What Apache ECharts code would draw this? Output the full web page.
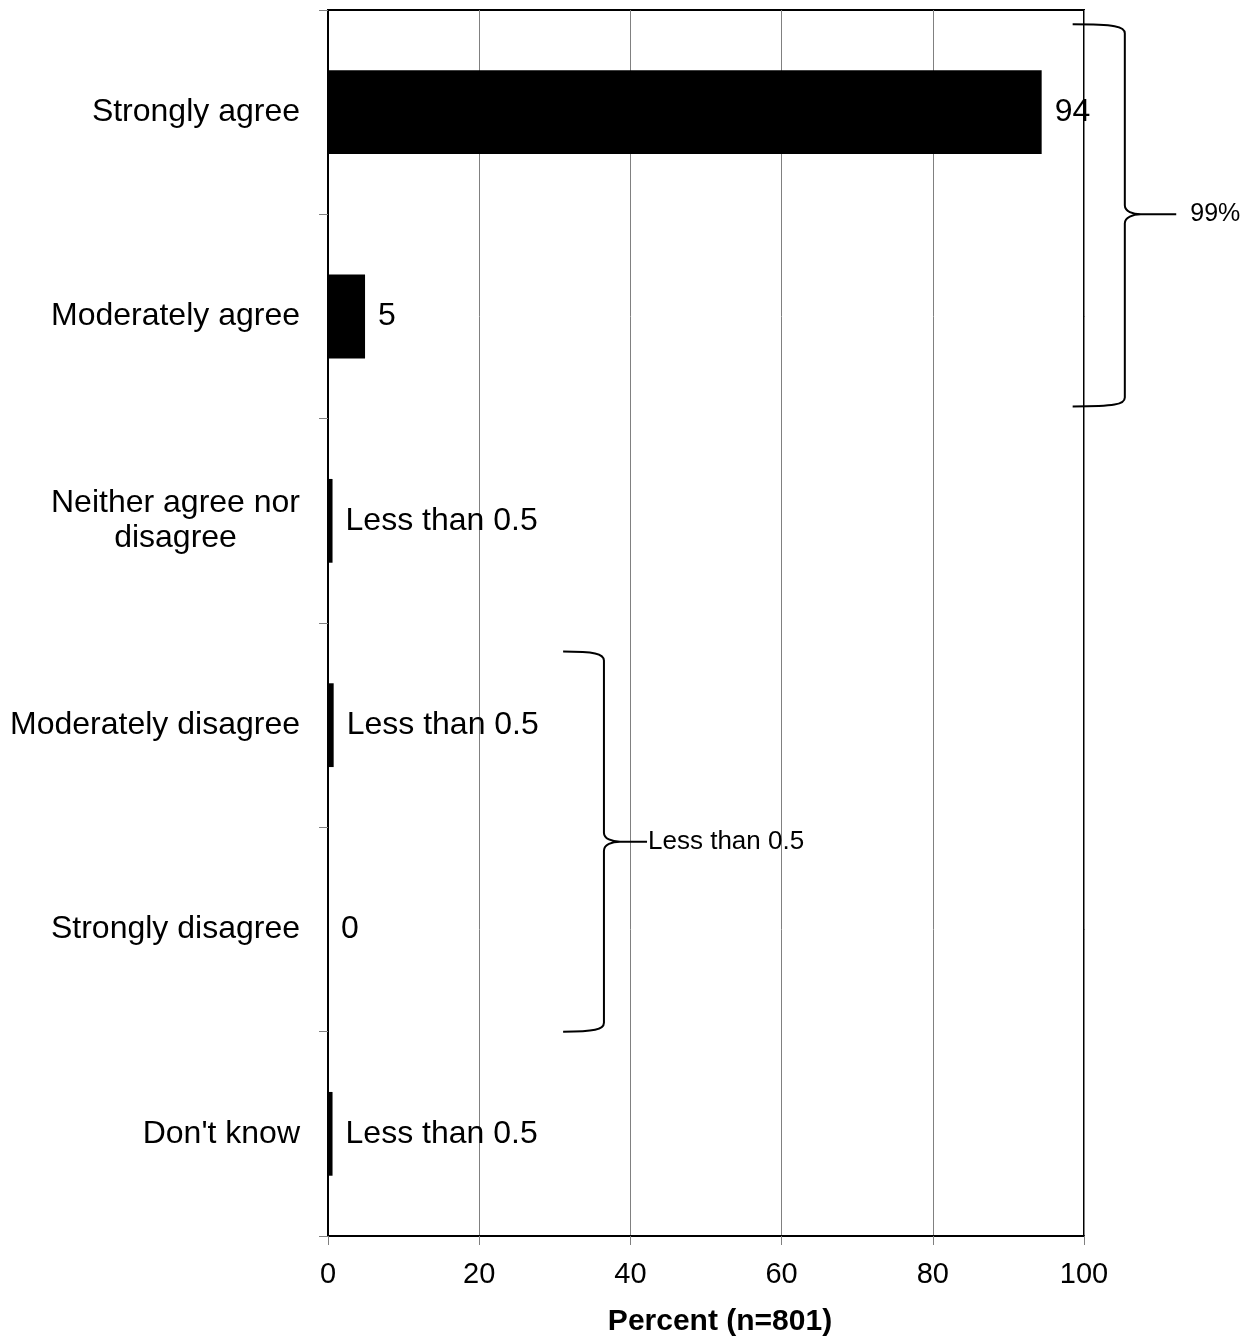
<!DOCTYPE html>
<html>
<head>
<meta charset="utf-8">
<script src="https://cdn.jsdelivr.net/npm/echarts@6/dist/echarts.min.js"></script>
<style>
html,body{margin:0;padding:0;background:#fff;}
#chart{width:1256px;height:1342px;}
</style>
</head>
<body>
<div id="chart"></div>
<script>
const categories = ['Strongly agree', 'Moderately agree', 'Neither agree nor disagree', 'Moderately disagree', 'Strongly disagree', "Don't know"];
const values = [94.4, 4.9, 0.6, 0.75, 0, 0.6];
const valueLabels = ['94', '5', 'Less than 0.5', 'Less than 0.5', '0', 'Less than 0.5'];
const xTickMin = 0, xTickMax = 100, xTickStep = 20;
const braceLabels = ['99%', 'Less than 0.5'];
const axisTitle = 'Percent (n=801)';

const FONT = '"Liberation Sans", Arial, Helvetica, sans-serif';

// brace geometry (x in percent units, y in category-band units)
const braceGeom = [
  { x0: 98.5, xv: 105.4, xt: 112.2, yTop: -0.43, yBot: 1.44, yMid: 0.5, gap: 14, fs: 25 },
  { x0: 31.1, xv: 36.5, xt: 42.2, yTop: 2.64, yBot: 4.5, yMid: 3.57, gap: 1, fs: 26 }
];

const chart = echarts.init(document.getElementById('chart'), null, { renderer: 'canvas' });

function braceRender(params, api) {
  const b = braceGeom[params.dataIndex];
  const p0 = api.coord([b.x0, 0]);
  const p1 = api.coord([b.x0, 1]);
  const band = p1[1] - p0[1];
  const yOf = function (f) { return p0[1] + f * band; };
  const x0 = api.coord([b.x0, 0])[0];
  const xv = api.coord([b.xv, 0])[0];
  const xt = api.coord([b.xt, 0])[0];
  const yT = yOf(b.yTop), yB = yOf(b.yBot), yM = yOf(b.yMid);
  const r = 9;
  const d = [
    'M', x0, yT,
    'C', xv - 10, yT, xv, yT + 2, xv, yT + r,
    'L', xv, yM - r,
    'C', xv, yM - 3, xv + 8, yM, xv + 16, yM,
    'L', xt, yM,
    'M', xv + 16, yM,
    'C', xv + 8, yM, xv, yM + 3, xv, yM + r,
    'L', xv, yB - r,
    'C', xv, yB - 2, xv - 10, yB, x0, yB
  ].join(' ');
  return {
    type: 'group',
    children: [
      { type: 'path', shape: { pathData: d }, style: { stroke: '#000', fill: null, lineWidth: 2 } },
      { type: 'text', style: { text: braceLabels[params.dataIndex], x: xt + b.gap, y: yM, verticalAlign: 'middle', align: 'left', fill: '#000', font: b.fs + 'px ' + FONT } }
    ]
  };
}

const option = {
  animation: false,
  backgroundColor: '#fff',
  grid: { left: 328, top: 10, width: 756, height: 1227, show: true, borderColor: '#000', borderWidth: 2, backgroundColor: 'transparent', containLabel: false },
  xAxis: {
    type: 'value', min: xTickMin, max: xTickMax, interval: xTickStep,
    name: axisTitle, nameLocation: 'middle', nameGap: 71,
    nameTextStyle: { fontFamily: FONT, fontWeight: 'bold', fontSize: 30, color: '#000', padding: [0, 0, 0, 28] },
    axisLine: { show: true, lineStyle: { color: '#000', width: 2 } },
    axisTick: { show: true, length: 9, lineStyle: { color: '#808080', width: 1 } },
    axisLabel: { fontFamily: FONT, fontSize: 29, color: '#000', margin: 24 },
    splitLine: { show: true, lineStyle: { color: '#808080', width: 1 } }
  },
  yAxis: {
    type: 'category', data: categories, inverse: true,
    axisLine: { show: true, lineStyle: { color: '#000', width: 2 } },
    axisTick: { show: true, length: 9, alignWithLabel: false, lineStyle: { color: '#808080', width: 1 } },
    axisLabel: {
      fontFamily: FONT, fontSize: 32, color: '#000', margin: 28, lineHeight: 35,
      formatter: function (v) {
        if (v === 'Neither agree nor disagree') return '{c|Neither agree nor}\n{c|disagree}';
        return v;
      },
      rich: { c: { fontFamily: FONT, fontSize: 32, color: '#000', lineHeight: 35, width: 249, align: 'center' } }
    },
    splitLine: { show: false }
  },
  series: [
    {
      type: 'bar', data: values, barCategoryGap: '59%',
      itemStyle: { color: '#000' },
      label: { show: true, position: 'right', distance: 13, fontFamily: FONT, fontSize: 32, color: '#000',
        formatter: function (p) { return valueLabels[p.dataIndex]; } },
      z: 3
    },
    {
      type: 'custom', renderItem: braceRender, clip: false, silent: true, z: 5,
      data: braceLabels.map(function (l, i) { return [50, i]; })
    }
  ]
};
chart.setOption(option);
</script>
</body>
</html>
